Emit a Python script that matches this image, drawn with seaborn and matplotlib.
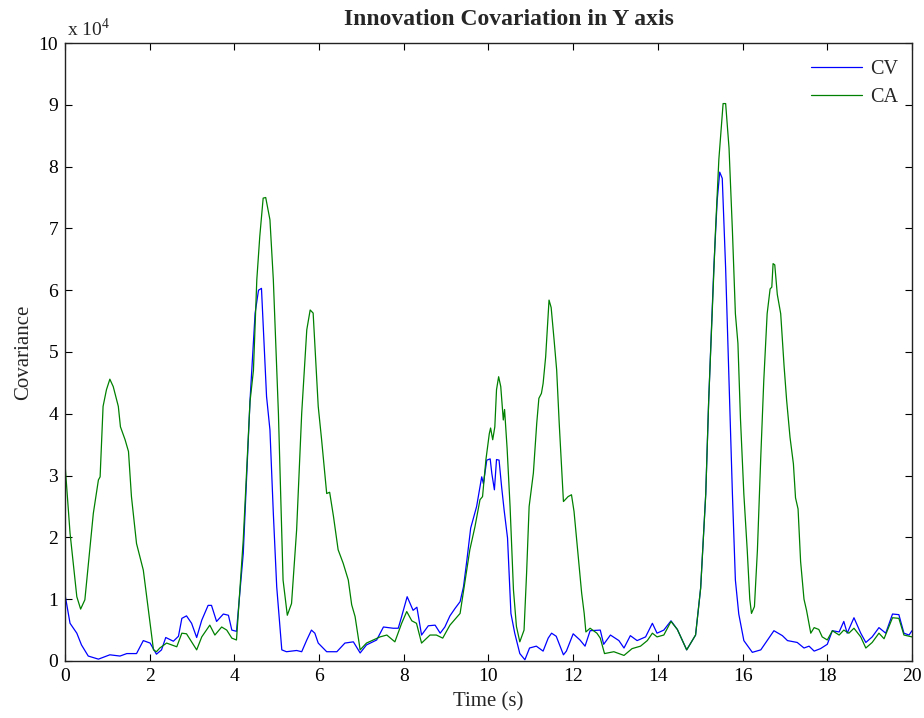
# Innovation covariance in Y axis, CV vs CA filter (values in units of 1e4)

import numpy as np
import matplotlib
matplotlib.use("Agg")
import matplotlib.pyplot as plt
import seaborn as sns

# --------------------------
# Data
# --------------------------
cv_time = [
    0.00, 0.12, 0.28, 0.39, 0.55, 0.79, 1.06, 1.30, 1.46, 1.69,
    1.85, 2.01, 2.16, 2.28, 2.38, 2.56, 2.68, 2.76, 2.87, 2.99,
    3.11, 3.23, 3.38, 3.46, 3.58, 3.74, 3.86, 3.94, 4.05, 4.21,
    4.37, 4.49, 4.57, 4.64, 4.76, 4.84, 4.92, 5.00, 5.12, 5.23,
    5.47, 5.59, 5.71, 5.82, 5.90, 5.98, 6.18, 6.42, 6.61, 6.81,
    6.97, 7.12, 7.36, 7.52, 7.75, 7.87, 7.95, 8.08, 8.22, 8.31,
    8.42, 8.58, 8.74, 8.86, 8.97, 9.09, 9.21, 9.33, 9.41, 9.49,
    9.58, 9.72, 9.84, 9.88, 9.96, 10.04, 10.08, 10.14, 10.19, 10.25,
    10.31, 10.37, 10.45, 10.53, 10.62, 10.74, 10.86, 10.97, 11.13, 11.29,
    11.41, 11.49, 11.60, 11.77, 11.84, 12.00, 12.16, 12.28, 12.40, 12.64,
    12.72, 12.88, 13.08, 13.20, 13.35, 13.51, 13.71, 13.87, 13.98, 14.14,
    14.31, 14.46, 14.68, 14.89, 15.01, 15.13, 15.20, 15.32, 15.40, 15.46,
    15.52, 15.60, 15.68, 15.76, 15.83, 15.91, 16.03, 16.23, 16.43, 16.58,
    16.74, 16.94, 17.06, 17.29, 17.45, 17.57, 17.69, 17.84, 18.00, 18.12,
    18.28, 18.39, 18.47, 18.63, 18.79, 18.91, 19.06, 19.22, 19.38, 19.54,
    19.69, 19.81, 19.93, 20.00,
]
cv_value = [
    1.08, 0.61, 0.45, 0.26, 0.08, 0.03, 0.10, 0.08, 0.12, 0.12,
    0.33, 0.29, 0.11, 0.18, 0.38, 0.32, 0.40, 0.69, 0.73, 0.61,
    0.38, 0.66, 0.90, 0.90, 0.64, 0.76, 0.74, 0.50, 0.48, 1.74,
    4.22, 5.63, 6.00, 6.03, 4.28, 3.74, 2.39, 1.20, 0.18, 0.15,
    0.17, 0.15, 0.34, 0.50, 0.45, 0.29, 0.15, 0.15, 0.29, 0.31,
    0.13, 0.26, 0.34, 0.55, 0.53, 0.53, 0.72, 1.04, 0.82, 0.87,
    0.42, 0.57, 0.58, 0.45, 0.55, 0.73, 0.85, 0.96, 1.20, 1.63,
    2.15, 2.50, 2.98, 2.87, 3.25, 3.27, 3.03, 2.77, 3.26, 3.25,
    2.82, 2.44, 1.99, 0.77, 0.45, 0.12, 0.02, 0.21, 0.24, 0.16,
    0.37, 0.45, 0.40, 0.10, 0.16, 0.44, 0.34, 0.24, 0.49, 0.50,
    0.27, 0.42, 0.33, 0.21, 0.41, 0.33, 0.39, 0.61, 0.45, 0.50,
    0.65, 0.51, 0.18, 0.42, 1.18, 2.70, 4.22, 6.35, 7.45, 7.91,
    7.81, 6.35, 4.53, 2.70, 1.31, 0.76, 0.33, 0.14, 0.18, 0.33,
    0.49, 0.41, 0.33, 0.30, 0.21, 0.24, 0.16, 0.20, 0.27, 0.49,
    0.47, 0.64, 0.45, 0.70, 0.45, 0.30, 0.39, 0.54, 0.45, 0.76,
    0.75, 0.45, 0.42, 0.49,
]

ca_time = [
    0.00, 0.12, 0.28, 0.37, 0.47, 0.67, 0.79, 0.83, 0.90, 0.98,
    1.06, 1.14, 1.26, 1.31, 1.42, 1.50, 1.57, 1.69, 1.85, 1.97,
    2.09, 2.16, 2.24, 2.40, 2.64, 2.76, 2.87, 3.11, 3.23, 3.42,
    3.54, 3.70, 3.82, 3.94, 4.05, 4.21, 4.37, 4.45, 4.53, 4.60,
    4.68, 4.74, 4.84, 4.92, 5.04, 5.15, 5.25, 5.35, 5.47, 5.59,
    5.71, 5.79, 5.86, 5.98, 6.06, 6.18, 6.25, 6.34, 6.45, 6.57,
    6.69, 6.77, 6.85, 6.97, 7.12, 7.28, 7.44, 7.60, 7.79, 7.95,
    8.07, 8.19, 8.30, 8.42, 8.62, 8.77, 8.92, 9.09, 9.33, 9.45,
    9.56, 9.68, 9.80, 9.86, 9.94, 10.02, 10.05, 10.10, 10.15, 10.19,
    10.24, 10.29, 10.35, 10.38, 10.44, 10.51, 10.59, 10.66, 10.74, 10.84,
    10.90, 10.96, 11.06, 11.14, 11.19, 11.25, 11.29, 11.35, 11.43, 11.48,
    11.55, 11.61, 11.67, 11.77, 11.88, 11.96, 12.02, 12.12, 12.20, 12.26,
    12.30, 12.40, 12.56, 12.64, 12.74, 12.96, 13.20, 13.39, 13.59, 13.75,
    13.87, 13.98, 14.14, 14.31, 14.46, 14.68, 14.89, 15.01, 15.13, 15.20,
    15.36, 15.44, 15.50, 15.54, 15.60, 15.68, 15.76, 15.83, 15.89, 15.95,
    16.03, 16.11, 16.17, 16.21, 16.28, 16.35, 16.43, 16.50, 16.58, 16.65,
    16.69, 16.72, 16.76, 16.82, 16.90, 16.98, 17.04, 17.12, 17.20, 17.25,
    17.31, 17.37, 17.45, 17.51, 17.61, 17.69, 17.80, 17.88, 18.00, 18.12,
    18.28, 18.39, 18.51, 18.63, 18.79, 18.91, 19.06, 19.22, 19.34, 19.54,
    19.69, 19.81, 20.00,
]
ca_value = [
    3.20, 2.07, 1.04, 0.84, 0.99, 2.39, 2.93, 2.98, 4.12, 4.39,
    4.56, 4.44, 4.12, 3.79, 3.58, 3.39, 2.66, 1.90, 1.47, 0.83,
    0.18, 0.15, 0.21, 0.29, 0.23, 0.45, 0.44, 0.18, 0.39, 0.58,
    0.42, 0.55, 0.50, 0.37, 0.34, 1.96, 4.20, 4.70, 6.17, 6.87,
    7.49, 7.50, 7.14, 6.17, 4.01, 1.31, 0.74, 0.93, 2.12, 4.01,
    5.36, 5.68, 5.63, 4.12, 3.58, 2.71, 2.73, 2.34, 1.80, 1.58,
    1.31, 0.91, 0.72, 0.18, 0.29, 0.34, 0.39, 0.42, 0.31, 0.61,
    0.80, 0.65, 0.61, 0.29, 0.42, 0.42, 0.37, 0.58, 0.77, 1.31,
    1.80, 2.17, 2.61, 2.66, 3.26, 3.68, 3.77, 3.58, 3.79, 4.39,
    4.60, 4.44, 3.90, 4.07, 3.44, 2.50, 1.15, 0.56, 0.31, 0.50,
    1.42, 2.50, 3.04, 3.85, 4.25, 4.33, 4.49, 4.92, 5.84, 5.72,
    5.19, 4.71, 3.85, 2.58, 2.66, 2.69, 2.42, 1.69, 1.10, 0.77,
    0.47, 0.53, 0.45, 0.37, 0.12, 0.15, 0.09, 0.20, 0.24, 0.33,
    0.45, 0.39, 0.42, 0.64, 0.51, 0.18, 0.42, 1.18, 2.70, 4.22,
    6.96, 8.12, 8.67, 9.02, 9.02, 8.30, 6.96, 5.62, 5.14, 3.92,
    2.70, 1.79, 1.00, 0.77, 0.88, 1.79, 3.31, 4.53, 5.62, 6.02,
    6.05, 6.43, 6.41, 5.93, 5.62, 4.77, 4.22, 3.62, 3.19, 2.64,
    2.46, 1.61, 1.00, 0.82, 0.45, 0.54, 0.51, 0.39, 0.34, 0.49,
    0.42, 0.50, 0.45, 0.53, 0.39, 0.21, 0.30, 0.45, 0.36, 0.70,
    0.69, 0.42, 0.39,
]

x_ticks = [0, 2, 4, 6, 8, 10, 12, 14, 16, 18, 20]
y_ticks = [0, 1, 2, 3, 4, 5, 6, 7, 8, 9, 10]

# --------------------------
# Style
# --------------------------
sns.set_style("ticks")
plt.rcParams['font.family'] = ['Liberation Serif', 'DejaVu Serif']
plt.rcParams['mathtext.fontset'] = 'custom'
plt.rcParams['mathtext.rm'] = 'Liberation Serif'
plt.rcParams['axes.linewidth'] = 1.0

fig = plt.figure(figsize=(9.24, 7.18), dpi=100)
ax = fig.add_axes([0.0703, 0.0794, 0.9167, 0.8607])

sns.lineplot(x=cv_time, y=cv_value, ax=ax, color='#0000FF', linewidth=0.9,
             label='CV', estimator=None)
sns.lineplot(x=ca_time, y=ca_value, ax=ax, color='#008000', linewidth=0.9,
             label='CA', estimator=None)

ax.set_xlim(0, 20)
ax.set_ylim(0, 10)
ax.set_xticks(x_ticks)
ax.set_yticks(y_ticks)
ax.tick_params(direction='in', top=True, right=True, length=5, width=0.8,
               labelsize=14, colors='black', pad=5)
for sp in ax.spines.values():
    sp.set_color('#222222')

ax.set_title('Innovation Covariation in Y axis', fontsize=17, fontweight='bold',
             pad=13, x=0.524)
ax.set_xlabel('Time (s)', fontsize=15, labelpad=5)
ax.set_ylabel('Covariance', fontsize=15, labelpad=4)
ax.text(0.002, 1.004, r'x 10$^{4}$', transform=ax.transAxes, ha='left', va='bottom',
        fontsize=14)

leg = ax.legend(loc='upper right', frameon=False, fontsize=14.5, handlelength=2.5,
                borderaxespad=0.3, labelspacing=0.45, handletextpad=0.4,
                bbox_to_anchor=(1.0, 0.995))

plt.savefig("out.png", dpi=100)
